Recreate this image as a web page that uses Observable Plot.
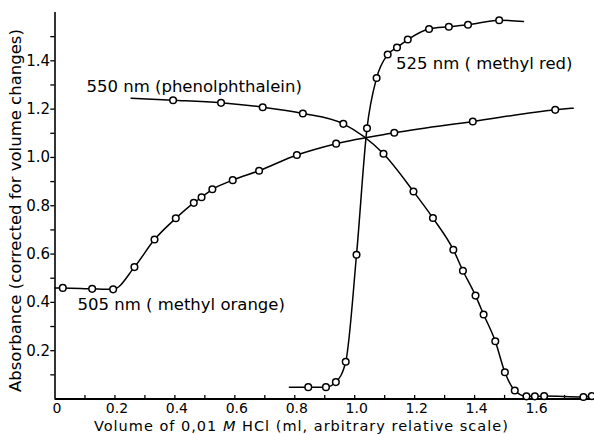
<!DOCTYPE html>
<html><head><meta charset="utf-8">
<script src="https://cdn.jsdelivr.net/npm/d3@7"></script>
<script src="https://cdn.jsdelivr.net/npm/@observablehq/plot@0.6"></script>
<style>body{margin:0;background:#fff}svg{display:block}</style>
</head><body><div id="chart"></div>
<script>
// 505 nm (methyl orange)
const orangeX = [0.026,0.124,0.194,0.265,0.332,0.403,0.463,0.489,0.525,0.593,0.681,0.807,0.938,1.132,1.394,1.669];
const orangeY = [0.460,0.456,0.454,0.546,0.660,0.748,0.812,0.835,0.868,0.906,0.945,1.010,1.057,1.102,1.149,1.197];
const orangeEnds = [[0.0,0.460],[1.729,1.204]];
// 550 nm (phenolphthalein)
const phenolX = [0.394,0.554,0.693,0.827,0.962,1.096,1.196,1.261,1.329,1.361,1.403,1.430,1.469,1.501,1.534,1.573,1.601,1.632,1.763,1.791];
const phenolY = [1.237,1.226,1.208,1.182,1.139,1.015,0.859,0.749,0.618,0.531,0.428,0.350,0.239,0.111,0.035,0.011,0.011,0.012,0.008,0.012];
const phenolEnds = [[0.254,1.245],[1.80,0.012]];
// 525 nm (methyl red)
const redX = [0.845,0.904,0.937,0.970,1.006,1.041,1.073,1.110,1.141,1.177,1.248,1.314,1.378,1.482];
const redY = [0.049,0.049,0.070,0.154,0.597,1.121,1.329,1.426,1.455,1.488,1.532,1.541,1.549,1.568];
const redEnds = [[0.782,0.049],[1.563,1.563]];

const seriesLabels = ["505 nm ( methyl orange)","550 nm (phenolphthalein)","525 nm ( methyl red)"];
const seriesLabelPos = [[0.075,0.391],[0.105,1.293],[1.138,1.387]];

const xTickLabels = [0,0.2,0.4,0.6,0.8,1.0,1.2,1.4,1.6];
const xMinor = d3.range(1,18).map(i=>i/10);
const yTickLabels = [0.2,0.4,0.6,0.8,1.0,1.2,1.4];
const yMinor = d3.range(1,16).map(i=>i/10);
const xLabelParts = ["Volume of 0,01 ","M"," HCl (ml, arbitrary relative scale)"];
const xLabel = xLabelParts.join("");
const yLabel = "Absorbance (corrected for volume changes)";

const pts = (xs, ys) => xs.map((x,i)=>({x, y: ys[i]}));
const withEnds = (xs, ys, ends) => [{x:ends[0][0],y:ends[0][1]}, ...pts(xs,ys), {x:ends[1][0],y:ends[1][1]}];

const series = [
  {line: withEnds(orangeX, orangeY, orangeEnds), dots: pts(orangeX, orangeY)},
  {line: withEnds(phenolX, phenolY, phenolEnds), dots: pts(phenolX, phenolY)},
  {line: withEnds(redX, redY, redEnds), dots: pts(redX, redY)}
];

const font = "DejaVu Sans, sans-serif";
const marks = [];
// axes lines
marks.push(Plot.ruleX([0], {y1: 0, y2: 1.6, strokeWidth: 1.6}));
marks.push(Plot.ruleY([0], {x1: 0, x2: 1.8, strokeWidth: 2}));
// ticks
marks.push(Plot.ruleY(yMinor, {x1: -0.014, x2: 0, strokeWidth: 1.3}));
marks.push(Plot.ruleX(xMinor, {y1: 0, y2: 0.015, strokeWidth: 1.3}));
marks.push(Plot.text(yTickLabels, {x: 0, y: d=>d, text: d=>d.toFixed(1), dx: -5, textAnchor: "end", fontSize: 15}));
marks.push(Plot.text(xTickLabels, {x: d=>d, y: 0, text: d=>d===0?"0":d.toFixed(1), dx: 2, dy: 9.5, lineAnchor: "middle", fontSize: 14}));
// series
for (const s of series) {
  marks.push(Plot.line(s.line, {x: "x", y: "y", curve: "monotone-x", stroke: "black", strokeWidth: 1.5}));
  marks.push(Plot.dot(s.dots, {x: "x", y: "y", r: 3.3, fill: "white", stroke: "black", strokeWidth: 1.5}));
}
marks.push(Plot.text(seriesLabels, {x: (d,i)=>seriesLabelPos[i][0], y: (d,i)=>seriesLabelPos[i][1], text: d=>d, textAnchor: "start", lineAnchor: "middle", fontSize: 16.5}));
// axis labels
marks.push(Plot.text([xLabel], {x: 0.822, y: -0.112, text: d=>d, textAnchor: "middle", lineAnchor: "middle", fontSize: 14.5}));
marks.push(Plot.text([yLabel], {x: -0.13, y: 0.78, text: d=>d, rotate: -90, textAnchor: "middle", lineAnchor: "middle", fontSize: 16.5}));

const chart = Plot.plot({
  width: 594, height: 434,
  marginLeft: 54.5, marginRight: 0, marginTop: 12, marginBottom: 35.5,
  style: {fontFamily: font, color: "black", background: "white"},
  x: {domain: [0, 1.8], axis: null},
  y: {domain: [0, 1.6], axis: null},
  marks
});
d3.select(chart).selectAll("text").filter(function(){return this.textContent === xLabel;}).each(function(){
  const t = d3.select(this);
  t.text("");
  t.attr("letter-spacing", "1px");
  t.append("tspan").text(xLabelParts[0]);
  t.append("tspan").attr("font-style","italic").text(xLabelParts[1]);
  t.append("tspan").text(xLabelParts[2]);
});
document.getElementById("chart").appendChild(chart);
</script></body></html>
